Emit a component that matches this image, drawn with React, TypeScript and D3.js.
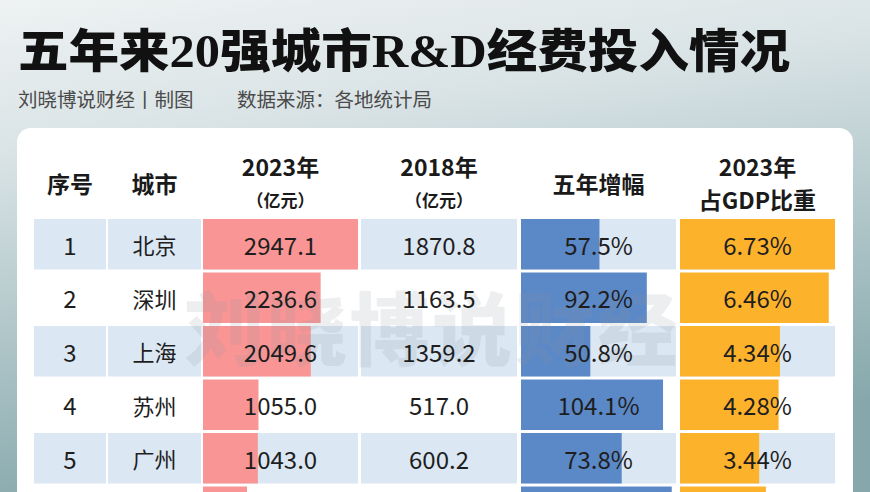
import React from "react";
import * as d3 from "d3";

const rankLabels = ["1", "2", "3", "4", "5", "6"];
const cities = ["北京", "深圳", "上海", "苏州", "广州", "杭州"];
const rd2023 = [2947.1, 2236.6, 2049.6, 1055.0, 1043.0, 836.0];
const rd2018 = [1870.8, 1163.5, 1359.2, 517.0, 600.2, 397.2];
const growth = [57.5, 92.2, 50.8, 104.1, 73.8, 110.5];
const gdpShare = [6.73, 6.46, 4.34, 4.28, 3.44, 3.73];

const headers: string[][] = [
  ["序号"],
  ["城市"],
  ["2023年", "（亿元）"],
  ["2018年", "（亿元）"],
  ["五年增幅"],
  ["2023年", "占GDP比重"],
];

const W = 870;
const H = 492;
const FONT = "'Noto Sans CJK SC', 'Noto Sans', sans-serif";

const colLeft = [34, 108, 203, 361, 521, 680];
const colWidth = [72, 93, 155, 156, 155, 155];

const BLUE_BG = "#dbe7f3";
const PINK = "#f99595";
const BLUE = "#5b88c6";
const ORANGE = "#fdb22c";

export default function App() {
  const y = d3
    .scaleBand<string>()
    .domain(rankLabels)
    .range([219, 219 + rankLabels.length * 53])
    .paddingInner(3 / 53)
    .paddingOuter(0);
  const bh = y.bandwidth();

  const x2023 = d3.scaleLinear().domain([0, d3.max(rd2023)!]).range([0, colWidth[2]]);
  const xGrowth = d3.scaleLinear().domain([0, 113.6]).range([0, colWidth[4]]);
  const xGdp = d3.scaleLinear().domain([0, d3.max(gdpShare)!]).range([0, colWidth[5]]);

  const cx = (c: number) => colLeft[c] + colWidth[c] / 2;

  return (
    <svg
      width={W}
      height={H}
      style={{ position: "absolute", left: 0, top: 0, display: "block" }}
      fontFamily={FONT}
    >
      <defs>
        <linearGradient id="bg" x1="0" y1="0" x2="0.25" y2="1">
          <stop offset="0" stopColor="#eef2f3" />
          <stop offset="0.3" stopColor="#d9e3e5" />
          <stop offset="1" stopColor="#86a8ac" />
        </linearGradient>
      </defs>
      <rect x={0} y={0} width={W} height={H} fill="url(#bg)" />

      {/* title */}
      <text
        x={18}
        y={67}
        fontSize={46}
        fontWeight={900}
        fill="#111"
        fontFamily={"'Liberation Serif', 'Noto Sans CJK SC', serif"}
        textLength={772}
        lengthAdjust="spacingAndGlyphs"
      >
        五年来20强城市R&amp;D经费投入情况
      </text>
      <text x={18} y={98} fontSize={19.5} fill="#4a4a4a" dominantBaseline="central">
        刘晓博说财经丨制图
      </text>
      <text x={237} y={98} fontSize={19.5} fill="#4a4a4a" dominantBaseline="central">
        数据来源：各地统计局
      </text>

      {/* card */}
      <rect x={17} y={128} width={836} height={420} rx={14} ry={14} fill="#ffffff" />

      {/* headers */}
      {headers.map((lines, c) =>
        lines.length === 1 ? (
          <text
            key={"h" + c}
            x={cx(c)}
            y={183}
            textAnchor="middle"
            dominantBaseline="central"
            fontSize={23}
            fontWeight={700}
            fill="#1a1a1a"
          >
            {lines[0]}
          </text>
        ) : (
          <g key={"h" + c}>
            <text
              x={cx(c)}
              y={166}
              textAnchor="middle"
              dominantBaseline="central"
              fontSize={23}
              fontWeight={700}
              fill="#1a1a1a"
            >
              {lines[0]}
            </text>
            <text
              x={cx(c)}
              y={199}
              textAnchor="middle"
              dominantBaseline="central"
              fontSize={c === 5 ? 23 : 17}
              fontWeight={700}
              fill="#1a1a1a"
            >
              {lines[1]}
            </text>
          </g>
        )
      )}

      {/* row backgrounds */}
      {rankLabels.map((r, i) =>
        i % 2 === 0
          ? colLeft.map((l, c) => (
              <rect key={"bg" + i + "-" + c} x={l} y={y(r)} width={colWidth[c]} height={bh} fill={BLUE_BG} />
            ))
          : null
      )}

      {/* bars */}
      {rankLabels.map((r, i) => (
        <g key={"bar" + i}>
          <rect x={colLeft[2]} y={y(r)} width={x2023(rd2023[i])} height={bh} fill={PINK} />
          <rect x={colLeft[4]} y={y(r)} width={xGrowth(growth[i])} height={bh} fill={BLUE} />
          <rect x={colLeft[5]} y={y(r)} width={xGdp(gdpShare[i])} height={bh} fill={ORANGE} />
        </g>
      ))}

      {/* watermark */}
      <text
        x={432}
        y={324}
        textAnchor="middle"
        dominantBaseline="central"
        fontSize={80}
        fontWeight={900}
        fill="#8a96a2"
        fillOpacity={0.16}
        letterSpacing={2.6}
      >
        刘晓博说财经
      </text>

      {/* cell texts (only rows fully inside the picture) */}
      {rankLabels.map((r, i) => {
        const top = y(r) as number;
        if (top + bh > H) return null;
        const cy = top + bh / 2;
        const vals = [
          rankLabels[i],
          cities[i],
          rd2023[i].toFixed(1),
          rd2018[i].toFixed(1),
          growth[i].toFixed(1) + "%",
          gdpShare[i].toFixed(2) + "%",
        ];
        return vals.map((v, c) => (
          <text
            key={"t" + i + "-" + c}
            x={cx(c)}
            y={cy}
            textAnchor="middle"
            dominantBaseline="central"
            fontSize={c === 1 ? 22 : 24}
            fill="#1e1e1e"
          >
            {v}
          </text>
        ));
      })}
    </svg>
  );
}
